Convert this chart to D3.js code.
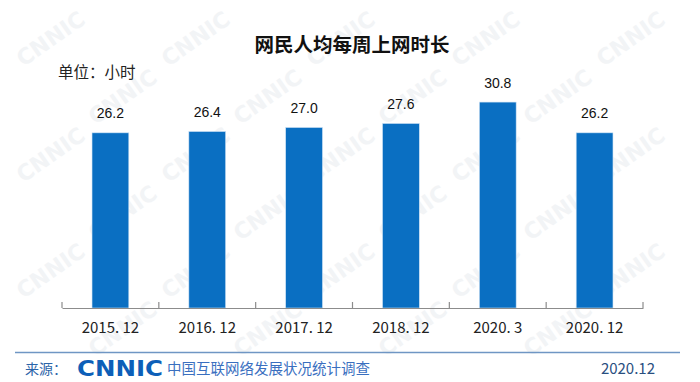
<!DOCTYPE html>
<html>
<head>
<meta charset="utf-8">
<script src="https://cdn.jsdelivr.net/npm/d3@7"></script>
<style>
  html, body { margin: 0; padding: 0; background: #fff; }
  svg { display: block; }
</style>
</head>
<body>
<div id="chart"></div>
<script>
// chart data
const categories = ["2015. 12", "2016. 12", "2017. 12", "2018. 12", "2020. 3", "2020. 12"];
const hours = [26.2, 26.4, 27.0, 27.6, 30.8, 26.2];
const titleText = "网民人均每周上网时长";
const unitText = "单位：小时";
const sourceLabel = "来源：";
const sourceName = "中国互联网络发展状况统计调查";
const reportDate = "2020.12";

const width = 700, height = 382;

const svg = d3.select("#chart")
    .append("svg")
    .attr("width", width)
    .attr("height", height);

svg.append("rect")
    .attr("width", width)
    .attr("height", height)
    .attr("fill", "#fff");

// faint diagonal watermark, kept inside the picture
const wm = svg.append("g").attr("class", "watermark");
for (let row = 0; row < 6; row++) {
    for (let col = 0; col < 5; col++) {
        const cx = 55 + col * 145 + (row % 2) * 72;
        const cy = 45 + row * 58;
        if (cx > 650) continue;
        wm.append("text")
            .attr("transform", "translate(" + cx + "," + cy + ") rotate(-35)")
            .attr("text-anchor", "middle")
            .attr("font-family", "DejaVu Sans")
            .attr("font-weight", "bold")
            .attr("font-size", 22)
            .attr("fill", "#f2f4f6")
            .text("CNNIC");
    }
}

//Scales: bars sit in equal segments between the tick marks
const x = d3.scaleBand()
    .domain(categories)
    .range([62, 643])
    .paddingInner(0.62)
    .paddingOuter(0.31);

const y = d3.scaleLinear()
    .domain([0, 35])
    .range([308, 74]);

// title and unit
svg.append("text")
    .attr("x", 352)
    .attr("y", 52)
    .attr("text-anchor", "middle")
    .attr("font-family", "Noto Sans CJK SC")
    .attr("font-weight", "bold")
    .attr("font-size", 19.5)
    .attr("fill", "#111")
    .text(titleText);

svg.append("text")
    .attr("x", 58)
    .attr("y", 78)
    .attr("font-family", "Noto Sans CJK SC")
    .attr("font-size", 15.5)
    .attr("fill", "#222")
    .text(unitText);

// bars
svg.selectAll("rect.bar")
    .data(hours)
    .join("rect")
    .attr("class", "bar")
    .attr("x", (d, i) => x(categories[i]))
    .attr("y", d => y(d))
    .attr("width", x.bandwidth())
    .attr("height", d => y(0) - y(d))
    .attr("fill", "#0a6fc2")
    .attr("stroke", "#cfe3f5")
    .attr("stroke-width", 0.6);

// value labels
svg.selectAll("text.value")
    .data(hours)
    .join("text")
    .attr("class", "value")
    .attr("x", (d, i) => x(categories[i]) + x.bandwidth() / 2)
    .attr("y", d => y(d) - 14.5)
    .attr("text-anchor", "middle")
    .attr("font-family", "Liberation Sans")
    .attr("font-size", 14)
    .attr("fill", "#111")
    .text(d => d.toFixed(1));

// x axis with labels, boundary ticks drawn separately
const xAxis = svg.append("g")
    .attr("transform", "translate(0," + y(0) + ")")
    .call(d3.axisBottom(x).tickSize(0).tickPadding(14));
xAxis.select(".domain").attr("stroke", "#8c8c8c").attr("stroke-width", 1.2);
xAxis.selectAll(".tick text")
    .attr("font-family", "Noto Sans CJK SC")
    .attr("font-size", 15)
    .attr("fill", "#222");

const bounds = d3.range(categories.length + 1).map(i => x.range()[0] + i * x.step());
svg.selectAll("line.bound")
    .data(bounds)
    .join("line")
    .attr("class", "bound")
    .attr("x1", d => d)
    .attr("x2", d => d)
    .attr("y1", y(0))
    .attr("y2", y(0) - 6)
    .attr("stroke", "#8c8c8c")
    .attr("stroke-width", 1.2);

// footer
svg.append("line")
    .attr("x1", 15)
    .attr("x2", 680)
    .attr("y1", 352.5)
    .attr("y2", 352.5)
    .attr("stroke", "#6f96c4")
    .attr("stroke-width", 1.5);

svg.append("text")
    .attr("x", 25)
    .attr("y", 374)
    .attr("font-family", "Noto Sans CJK SC")
    .attr("font-size", 14)
    .attr("fill", "#2c64a8")
    .text(sourceLabel);

svg.append("text")
    .attr("x", 77)
    .attr("y", 376)
    .attr("font-family", "DejaVu Sans")
    .attr("font-weight", "bold")
    .attr("font-size", 22)
    .attr("textLength", 86)
    .attr("lengthAdjust", "spacingAndGlyphs")
    .attr("fill", "#0d5fb8")
    .text("CNNIC");

svg.append("text")
    .attr("x", 167)
    .attr("y", 374)
    .attr("font-family", "Noto Sans CJK SC")
    .attr("font-size", 14.5)
    .attr("fill", "#3a6fbf")
    .text(sourceName);

svg.append("text")
    .attr("x", 655)
    .attr("y", 374)
    .attr("text-anchor", "end")
    .attr("font-family", "Noto Sans CJK SC")
    .attr("font-size", 15)
    .attr("fill", "#2a4f7f")
    .text(reportDate);
</script>
</body>
</html>
